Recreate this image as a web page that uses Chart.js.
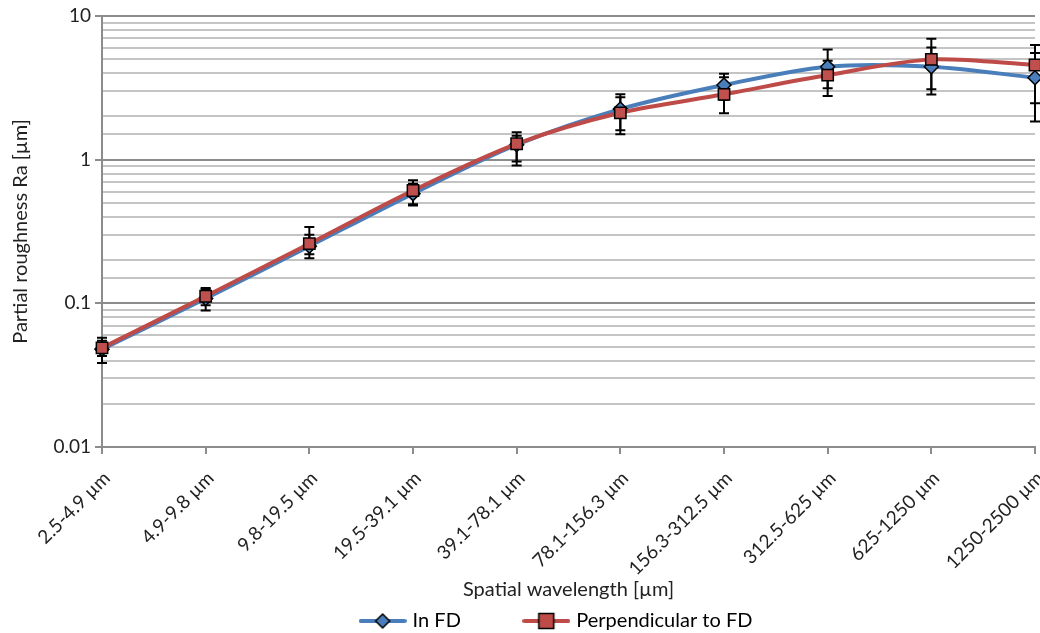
<!DOCTYPE html>
<html>
<head>
<meta charset="utf-8">
<script src="https://cdn.jsdelivr.net/npm/chart.js@4.4.1/dist/chart.umd.min.js"></script>
<style>
    html, body { margin: 0; padding: 0; background: #fff; }
    #wrap { width: 1040px; height: 633px; }
</style>
</head>
<body>
<div id="wrap"><canvas id="grafico"></canvas></div>
<script>
// categorias del eje x
const categorias = ["2.5-4.9 µm", "4.9-9.8 µm", "9.8-19.5 µm", "19.5-39.1 µm", "39.1-78.1 µm",
    "78.1-156.3 µm", "156.3-312.5 µm", "312.5-625 µm", "625-1250 µm", "1250-2500 µm"];

// In FD
const inFD = [0.048, 0.108, 0.25, 0.58, 1.27, 2.25, 3.31, 4.44, 4.44, 3.72];
const inFDMas = [0.0095, 0.02, 0.05, 0.1, 0.2, 0.6, 0.65, 1.4, 1.6, 1.8];
const inFDMenos = [0.0095, 0.019, 0.03, 0.1, 0.3, 0.65, 0.7, 1.3, 1.6, 1.88];

// Perpendicular to FD
const perpFD = [0.049, 0.112, 0.26, 0.61, 1.29, 2.12, 2.85, 3.88, 4.99, 4.56];
const perpFDMas = [0.006, 0.014, 0.08, 0.11, 0.26, 0.6, 0.9, 1.0, 1.95, 1.72];
const perpFDMenos = [0.006, 0.015, 0.054, 0.12, 0.38, 0.62, 0.75, 1.11, 1.9, 2.09];

// etiquetas del eje y
const yEtiquetas = [0.01, 0.1, 1, 10];

const azul = "#4A7EBB";
const rojo = "#BE4B48";
const fuente = "Lato, 'Liberation Sans', sans-serif";

function esMayor(v) {
    return yEtiquetas.some(t => Math.abs(t - v) < t * 1e-6);
}

function iconoLeyenda(color, forma) {
    const c = document.createElement("canvas");
    c.width = 48;
    c.height = 20;
    const ctx = c.getContext("2d");
    ctx.strokeStyle = color;
    ctx.lineWidth = 4;
    ctx.lineCap = "round";
    ctx.beginPath();
    ctx.moveTo(2, 10);
    ctx.lineTo(46, 10);
    ctx.stroke();
    ctx.fillStyle = color;
    ctx.strokeStyle = "#000";
    ctx.lineWidth = 1.5;
    ctx.beginPath();
    if (forma === "diamante") {
        ctx.moveTo(24, 3); ctx.lineTo(31, 10); ctx.lineTo(24, 17); ctx.lineTo(17, 10); ctx.closePath();
    } else {
        ctx.rect(16.5, 2.5, 15, 15);
    }
    ctx.fill();
    ctx.stroke();
    return c;
}

const barrasError = {
    id: "barrasError",
    beforeDatasetsDraw(chart) {
        const ctx = chart.ctx;
        const xs = chart.scales.x;
        const ys = chart.scales.y;
        ctx.save();
        ctx.strokeStyle = "#000";
        ctx.lineWidth = 2;
        chart.data.datasets.forEach(ds => {
            ds.data.forEach((v, i) => {
                const x = xs.getPixelForValue(i);
                const yArriba = ys.getPixelForValue(v + ds.errMas[i]);
                const yAbajo = ys.getPixelForValue(v - ds.errMenos[i]);
                ctx.beginPath();
                ctx.moveTo(x, yArriba); ctx.lineTo(x, yAbajo);
                ctx.moveTo(x - 5, yArriba); ctx.lineTo(x + 5, yArriba);
                ctx.moveTo(x - 5, yAbajo); ctx.lineTo(x + 5, yAbajo);
                ctx.stroke();
            });
        });
        ctx.restore();
    }
};

// mueve la leyenda un poco a la derecha y abajo, como en el original
const moverLeyenda = {
    id: "moverLeyenda",
    afterLayout(chart) {
        const ley = chart.legend;
        if (ley) {
            ley.left += 40;
            ley.right += 40;
            ley.top += 8;
            ley.bottom += 8;
        }
    }
};

function generarGrafico() {
    const ctx = document.getElementById("grafico").getContext("2d");
    new Chart(ctx, {
        type: "line",
        data: {
            labels: categorias,
            datasets: [{
                label: "In FD",
                data: inFD,
                errMas: inFDMas,
                errMenos: inFDMenos,
                borderColor: azul,
                backgroundColor: azul,
                borderWidth: 4,
                tension: 0.3,
                pointStyle: "rectRot",
                pointRadius: 7,
                pointBorderColor: "#000",
                pointBorderWidth: 1.5,
                order: 1,
                clip: false,
                icono: iconoLeyenda(azul, "diamante")
            }, {
                label: "Perpendicular to FD",
                data: perpFD,
                errMas: perpFDMas,
                errMenos: perpFDMenos,
                borderColor: rojo,
                backgroundColor: "#C0504D",
                borderWidth: 4,
                tension: 0.3,
                pointStyle: "rect",
                pointRadius: 8,
                pointBorderColor: "#000",
                pointBorderWidth: 1.5,
                order: 0,
                clip: false,
                icono: iconoLeyenda(rojo, "cuadrado")
            }]
        },
        options: {
            responsive: true,
            maintainAspectRatio: false,
            animation: false,
            layout: { autoPadding: false, padding: { top: 16, right: 5, left: 0, bottom: 0 } },
            plugins: {
                tooltip: { enabled: false },
                legend: {
                    position: "bottom",
                    labels: {
                        usePointStyle: true,
                        pointStyleWidth: 40,
                        padding: 4,
                        color: "#222",
                        font: { family: fuente, size: 20 },
                        generateLabels: (chart) => chart.data.datasets.map((ds, i) => ({
                            text: i === 0 ? ds.label + "\u00a0".repeat(12) : ds.label,
                            pointStyle: ds.icono,
                            fillStyle: ds.borderColor,
                            strokeStyle: ds.borderColor,
                            lineWidth: 0,
                            hidden: false,
                            datasetIndex: i
                        }))
                    }
                }
            },
            scales: {
                x: {
                    offset: false,
                    grid: {
                        drawOnChartArea: false,
                        drawTicks: true,
                        tickLength: 7,
                        color: "#8c8c8c",
                        lineWidth: 2
                    },
                    border: { display: true, color: "#8c8c8c", width: 2 },
                    ticks: {
                        minRotation: 45,
                        maxRotation: 45,
                        autoSkip: false,
                        color: "#222",
                        padding: 13,
                        labelOffset: 5,
                        font: { family: fuente, size: 19 }
                    },
                    title: {
                        display: true,
                        text: "Spatial wavelength [µm]",
                        color: "#222",
                        padding: { top: 2, bottom: -3 },
                        font: { family: fuente, size: 20 }
                    },
                    afterFit: (scale) => {
                        const ley = scale.chart.legend ? scale.chart.legend.height : 30;
                        scale.height = scale.chart.height - ley - 447;
                        scale.paddingRight = 0;
                    }
                },
                y: {
                    type: "logarithmic",
                    min: 0.01,
                    max: 10,
                    grid: {
                        color: (c) => esMayor(c.tick.value) ? "#8c8c8c" : "#c4c4c4",
                        lineWidth: 2,
                        tickLength: 7,
                        tickColor: (c) => esMayor(c.tick.value) ? "#8c8c8c" : "rgba(0,0,0,0)"
                    },
                    border: { display: true, color: "#8c8c8c", width: 2 },
                    ticks: {
                        autoSkip: false,
                        color: "#222",
                        padding: 4,
                        font: { family: fuente, size: 19 },
                        callback: (v) => esMayor(v) ? String(yEtiquetas.find(t => Math.abs(t - v) < t * 1e-6)) : ""
                    },
                    title: {
                        display: true,
                        text: "Partial roughness Ra [µm]",
                        color: "#222",
                        padding: { top: 9, bottom: 6 },
                        font: { family: fuente, size: 20 }
                    },
                    afterFit: (scale) => {
                        scale.width = 102;
                        scale.paddingTop = 0;
                    }
                }
            }
        },
        plugins: [barrasError, moverLeyenda]
    });
}

document.addEventListener("DOMContentLoaded", () => {
    generarGrafico();
});
</script>
</body>
</html>
